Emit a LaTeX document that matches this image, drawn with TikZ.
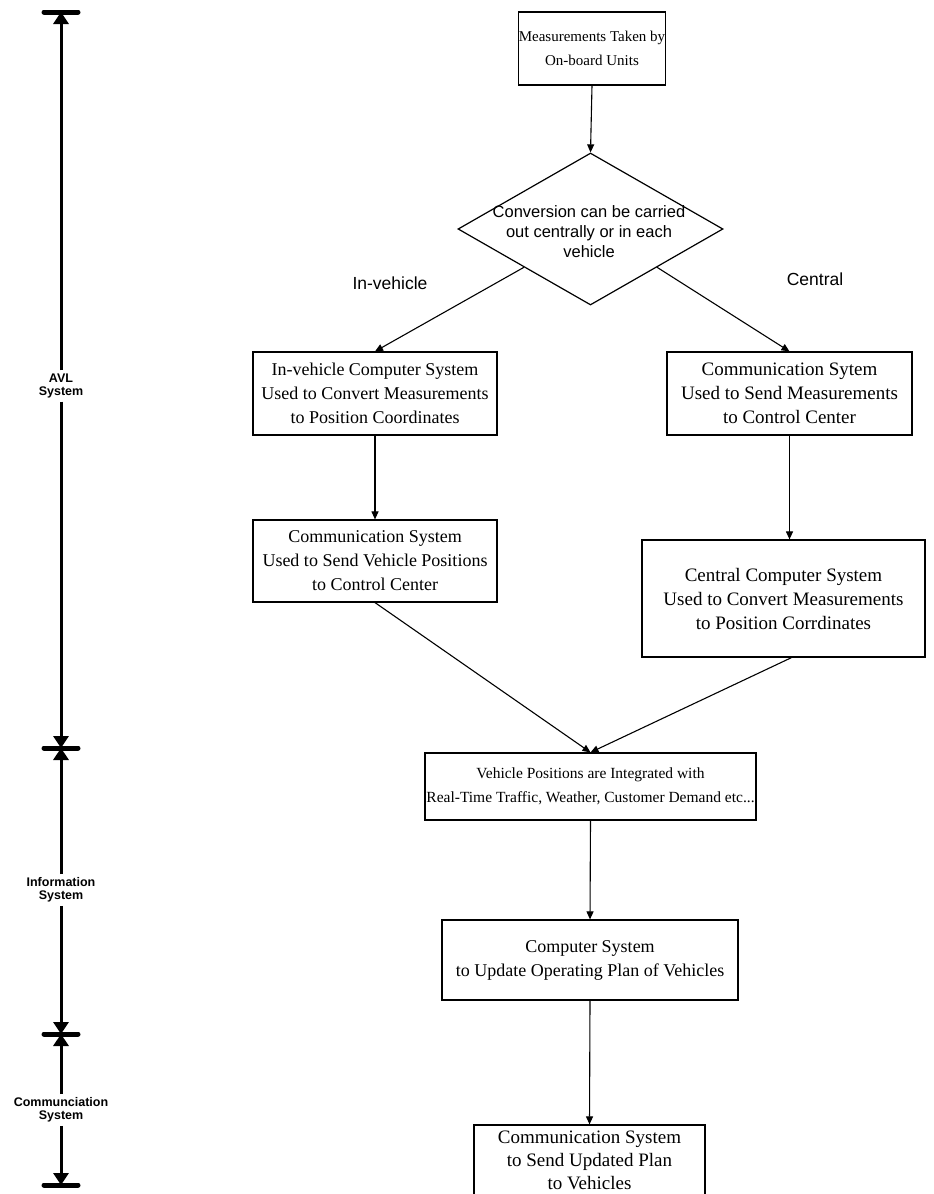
\documentclass[tikz,border=0pt]{standalone}
\usepackage{fontspec}
\setmainfont{Liberation Serif}
\newfontfamily\sansf{Liberation Sans}
\usetikzlibrary{arrows.meta,shapes.geometric,calc}
\newcommand{\bxfont}[1]{\fontsize{#1}{24}\selectfont}
\begin{document}
\begin{tikzpicture}[x=1pt,y=-1pt,
  box/.style={draw,line width=1.2pt,rectangle,inner sep=0pt,align=center,font=\bxfont{18}},
  flow/.style={line width=1.1pt,-{Triangle[width=7pt,length=8pt]}},
  scal/.style={line width=3pt,-{Triangle[width=15pt,length=12pt]}},
  barline/.style={line width=5pt,line cap=round},
  side/.style={font=\sansf\bfseries\fontsize{12.5}{13.5}\selectfont,align=center,inner sep=3pt},
  lab/.style={font=\sansf\fontsize{17.5}{20}\selectfont,inner sep=0pt},
]
\clip (0,0) rectangle (934,1194);
\fill[white] (0,0) rectangle (934,1194);
% main flow
\node[box,minimum width=146pt,minimum height=73pt,font=\bxfont{15}] (b1) at (592,48.5) {Measurements Taken by\\On-board Units};
\node[draw,diamond,line width=1.2pt,minimum width=265pt,minimum height=152pt,inner sep=0pt] (dm) at (590.5,229) {};
\node[font=\sansf\fontsize{16.5}{20}\selectfont,align=center,inner sep=0pt] (dmt) at (589,232) {Conversion can be carried\\out centrally or in each\\vehicle};
\node[lab] (lin) at (390,283) {In-vehicle};
\node[lab] (lce) at (815,279) {Central};
\node[box,minimum width=244pt,minimum height=83pt] (l1) at (375,393.5) {In-vehicle Computer System\\Used to Convert Measurements\\to Position Coordinates};
\node[box,minimum width=245pt,minimum height=83pt,font=\bxfont{19}] (r1) at (789.5,393.5) {Communication Sytem\\Used to Send Measurements\\to Control Center};
\node[box,minimum width=244pt,minimum height=82pt] (l2) at (375,561) {Communication System\\Used to Send Vehicle Positions\\to Control Center};
\node[box,minimum width=283pt,minimum height=117pt,font=\bxfont{19}] (r2) at (783.5,598.5) {Central Computer System\\Used to Convert Measurements\\to Position Corrdinates};
\node[box,minimum width=331pt,minimum height=67pt,font=\bxfont{15.5}] (b3) at (590.5,786.5) {Vehicle Positions are Integrated with\\Real-Time Traffic, Weather, Customer Demand etc...};
\node[box,minimum width=296pt,minimum height=80pt] (b4) at (590,960) {Computer System\\to Update Operating Plan of Vehicles};
\node[box,minimum width=231pt,minimum height=70pt,font=\fontsize{19}{23}\selectfont] (b5) at (589.5,1160) {Communication System\\to Send Updated Plan\\to Vehicles};
\coordinate (dl) at ($(dm.west)!0.5!(dm.south)$);
\coordinate (dr) at ($(dm.east)!0.5!(dm.south)$);
\draw[flow] (b1.south) -- (dm.north);
\draw[flow] (dl) -- (l1.north);
\draw[flow] (dr) -- (r1.north);
\draw[flow] (l1.south) -- (l2.north);
\draw[flow] (r1.south) -- (r1.south |- r2.north);
\draw[flow] (l2.south) -- (b3.north);
\draw[flow] ($(r2.south)+(8,0)$) -- (b3.north);
\draw[flow] (b3.south) -- (b4.north);
\draw[flow] (b4.south) -- (b5.north);
% scale on the left
\coordinate (s0) at (61,12);
\coordinate (s1) at (61,748);
\coordinate (s2) at (61,1034);
\coordinate (s3) at (61,1185);
\foreach \s in {s0,s1,s2,s3}{\draw[barline] ($(\s)+(-17,0)$) -- ($(\s)+(17,0)$);}
\node[side] (avl) at (61,386) {AVL\\System};
\node[side] (inf) at (61,890) {Information\\System};
\node[side] (com) at (61,1110) {Communciation\\System};
\draw[scal] (avl.north) -- (s0);
\draw[scal] (avl.south) -- (s1);
\draw[scal] (inf.north) -- (s1);
\draw[scal] (inf.south) -- (s2);
\draw[scal] (com.north) -- (s2);
\draw[scal] (com.south) -- (s3);
\end{tikzpicture}
\end{document}
